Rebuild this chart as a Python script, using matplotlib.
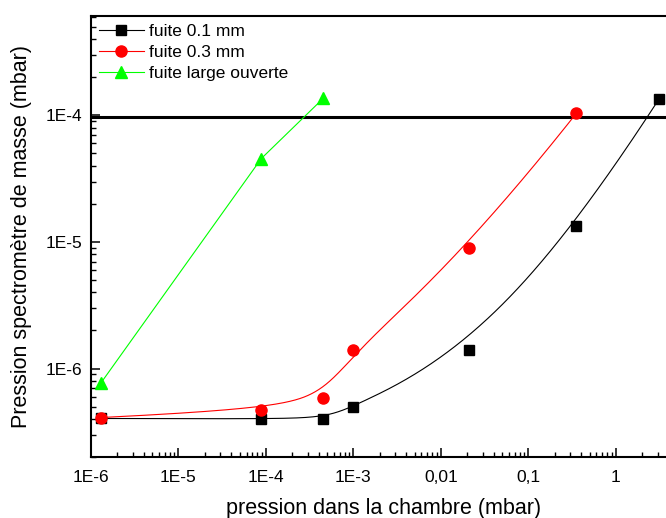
import numpy as np
import matplotlib
matplotlib.use("Agg")
import matplotlib.pyplot as plt
from matplotlib.ticker import FixedLocator, LogLocator, NullFormatter

plt.rcParams['font.family'] = ['Liberation Sans', 'DejaVu Sans']

# data (mbar)
x_chamber = [1.3e-6, 8.85e-5, 4.5e-4, 1.0e-3, 0.0212, 0.354, 3.1]
y_leak_01 = [4.03e-7, 4.0e-7, 4.0e-7, 5.0e-7, 1.41e-6, 1.33e-5, 1.34e-4]

x_leak_03 = [1.3e-6, 8.85e-5, 4.5e-4, 1.0e-3, 0.0212, 0.354]
y_leak_03 = [4.1e-7, 4.74e-7, 5.8e-7, 1.41e-6, 8.9e-6, 1.04e-4]

x_open = [1.3e-6, 8.85e-5, 4.5e-4]
y_open = [7.7e-7, 4.56e-5, 1.36e-4]

threshold = 9.7e-5

xtick_vals = [1e-6, 1e-5, 1e-4, 1e-3, 1e-2, 1e-1, 1]
xtick_labels = ['1E-6', '1E-5', '1E-4', '1E-3', '0,01', '0,1', '1']
ytick_vals = [1e-6, 1e-5, 1e-4]
ytick_labels = ['1E-6', '1E-5', '1E-4']


def basis(i, p, t, knots):
    # Cox-de Boor recursion
    if p == 0:
        inside = (knots[i] <= t) & (t < knots[i + 1])
        if knots[i + 1] == knots[-1] and knots[i] < knots[i + 1]:
            inside |= t == knots[-1]
        return inside.astype(float)
    out = np.zeros_like(t)
    d1 = knots[i + p] - knots[i]
    if d1 > 0:
        out += (t - knots[i]) / d1 * basis(i, p - 1, t, knots)
    d2 = knots[i + p + 1] - knots[i + 1]
    if d2 > 0:
        out += (knots[i + p + 1] - t) / d2 * basis(i + 1, p - 1, t, knots)
    return out


def bspline(xs, ys, k=3, n=400):
    """Clamped B-spline in log-log space, points used as control points."""
    lx, ly = np.log10(xs), np.log10(ys)
    m = len(lx)
    knots = np.concatenate([np.zeros(k), np.linspace(0, 1, m - k + 1), np.ones(k)])
    t = np.linspace(0, 1, n)
    bx = np.zeros(n)
    by = np.zeros(n)
    for i in range(m):
        b = basis(i, k, t, knots)
        bx += b * lx[i]
        by += b * ly[i]
    return 10 ** bx, 10 ** by


fig = plt.figure(figsize=(6.66, 5.18), dpi=100)
ax = fig.add_axes([91 / 666, 61 / 518, 586 / 666, 441 / 518])

ax.set_xscale('log')
ax.set_yscale('log')
ax.set_xlim(1e-6, 5)
ax.set_ylim(2e-7, 6.1e-4)

ax.axhline(threshold, color='black', lw=2.2, zorder=2)

cx, cy = bspline(x_chamber, y_leak_01)
ax.plot(cx, cy, color='black', lw=0.8, zorder=3)
ax.plot(x_chamber, y_leak_01, ls='none', marker='s', ms=7, color='black', zorder=4)

cx, cy = bspline(x_leak_03, y_leak_03)
ax.plot(cx, cy, color='red', lw=0.8, zorder=3)
ax.plot(x_leak_03, y_leak_03, ls='none', marker='o', ms=8, color='red', zorder=4)

ax.plot(x_open, y_open, color='#00ff00', lw=0.8, marker='^', ms=8, zorder=4)

# legend handles: line + marker
h1, = ax.plot([], [], color='black', lw=0.8, marker='s', ms=7)
h2, = ax.plot([], [], color='red', lw=0.8, marker='o', ms=8)
h3, = ax.plot([], [], color='#00ff00', lw=0.8, marker='^', ms=8)
ax.legend([h1, h2, h3], ['fuite 0.1 mm', 'fuite 0.3 mm', 'fuite large ouverte'],
          loc='upper left', bbox_to_anchor=(0.0, 1.0), frameon=False,
          fontsize=12.5, numpoints=1, handlelength=2.6, handletextpad=0.3,
          labelspacing=0.34, borderaxespad=0.15, borderpad=0.3)

ax.xaxis.set_major_locator(FixedLocator(xtick_vals))
ax.set_xticklabels(xtick_labels)
ax.yaxis.set_major_locator(FixedLocator(ytick_vals))
ax.set_yticklabels(ytick_labels)
ax.xaxis.set_minor_locator(LogLocator(base=10, subs=np.arange(2, 10), numticks=30))
ax.yaxis.set_minor_locator(LogLocator(base=10, subs=np.arange(2, 10), numticks=30))
ax.xaxis.set_minor_formatter(NullFormatter())
ax.yaxis.set_minor_formatter(NullFormatter())

ax.tick_params(which='major', direction='in', length=6.5, width=1.1, labelsize=12.5)
ax.tick_params(which='minor', direction='in', length=3.8, width=1.0)
ax.tick_params(axis='x', which='major', pad=9.5)
ax.tick_params(axis='y', which='major', pad=6.5)
for side in ['left', 'bottom', 'top', 'right']:
    ax.spines[side].set_linewidth(1.5)

ax.set_xlabel('pression dans la chambre (mbar)', fontsize=15.5)
ax.set_ylabel('Pression spectromètre de masse (mbar)', fontsize=15.5)
ax.xaxis.set_label_coords(0.5, -0.093)
ax.yaxis.set_label_coords(-0.100, 0.5)

fig.savefig('out.png', dpi=100)
